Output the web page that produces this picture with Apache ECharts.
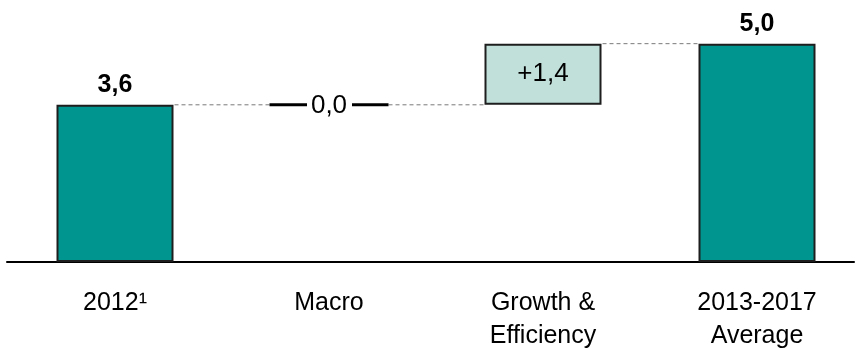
<!DOCTYPE html>
<html>
<head>
<meta charset="utf-8">
<title>Waterfall</title>
<script src="https://cdn.jsdelivr.net/npm/echarts@6/dist/echarts.min.js"></script>
<style>
  html, body { margin: 0; padding: 0; background: #fff; }
  #chart { width: 858px; height: 349px; }
</style>
</head>
<body>
<div id="chart"></div>
<script>
// Waterfall: starting level, two changes, resulting average
const categories = ['2012\u00B9', 'Macro', 'Growth &\nEfficiency', '2013-2017\nAverage'];
const values = [3.6, 0.0, 1.4, 5.0];
const kinds = ['total', 'delta', 'delta', 'total'];

const FONT = '"Liberation Sans", Arial, sans-serif';
const TEAL = '#00968f';
const LIGHT = '#c1e0da';
const EDGE = '#1e1e1e';
const BAR_W = 117;

const fmt = v => v.toFixed(1).replace('.', ',');

// Build stacked base / visible parts and the running level after each step
const base = [];
const shown = [];
const level = [];
let run = 0;
values.forEach((v, i) => {
  if (kinds[i] === 'total') {
    base.push('-');
    shown.push(v);
    run = v;
  } else {
    base.push(v === 0 ? '-' : run);
    shown.push(v === 0 ? '-' : v);
    run += v;
  }
  level.push(run);
});

const flatSteps = values.map((v, i) => (kinds[i] === 'delta' && v === 0) ? [i, level[i], v] : null).filter(Boolean);
const connectors = level.slice(0, -1).map((lv, i) => [i, lv]);

const chart = echarts.init(document.getElementById('chart'), null, { renderer: 'canvas' });

chart.setOption({
  animation: false,
  backgroundColor: '#fff',
  textStyle: { fontFamily: FONT },
  grid: [
    { left: 8, width: 856, top: 0, bottom: 87, containLabel: false, outerBoundsMode: 'none' },
    { left: 7, right: 4, top: 0, bottom: 87, containLabel: false, outerBoundsMode: 'none' }
  ],
  xAxis: [
    {
      type: 'category',
      gridIndex: 0,
      data: categories,
      axisLine: { show: false },
      axisTick: { show: false },
      axisLabel: {
        interval: 0,
        color: '#000',
        fontFamily: FONT,
        fontSize: 25,
        lineHeight: 33,
        margin: 25,
        verticalAlign: 'top'
      }
    },
    {
      type: 'value',
      gridIndex: 1,
      min: 0,
      max: 1,
      axisLine: { show: true, onZero: false, lineStyle: { color: '#000', width: 2 } },
      axisTick: { show: false },
      axisLabel: { show: false },
      splitLine: { show: false }
    }
  ],
  yAxis: [
    { type: 'value', gridIndex: 0, min: 0, max: 6, show: false },
    { type: 'value', gridIndex: 1, min: 0, max: 1, show: false }
  ],
  series: [
    {
      type: 'bar',
      stack: 'wf',
      barWidth: BAR_W,
      data: base,
      itemStyle: { color: 'transparent', borderWidth: 0 },
      silent: true
    },
    {
      type: 'bar',
      stack: 'wf',
      barWidth: BAR_W,
      data: shown.map((v, i) => {
        if (v === '-') return '-';
        const isTotal = kinds[i] === 'total';
        return {
          value: v,
          itemStyle: { color: isTotal ? TEAL : LIGHT, borderColor: EDGE, borderWidth: 2 },
          label: isTotal
            ? { show: true, position: 'top', distance: 7, formatter: fmt(values[i]), fontSize: 25, lineHeight: 25, fontWeight: 'bold', color: '#000', fontFamily: FONT }
            : { show: true, position: 'inside', formatter: (values[i] > 0 ? '+' : '') + fmt(values[i]), fontSize: 26, lineHeight: 26, color: '#000', fontFamily: FONT }
        };
      })
    },
    {
      // dashed links between neighbouring bars
      type: 'custom',
      data: connectors,
      z: 1,
      renderItem: (params, api) => {
        const i = api.value(0);
        const lv = api.value(1);
        const a = api.coord([i, lv]);
        const b = api.coord([i + 1, lv]);
        return {
          type: 'line',
          shape: { x1: a[0] + BAR_W / 2 + 1, y1: a[1], x2: b[0] - BAR_W / 2 - 1, y2: b[1] },
          style: { stroke: '#7a7a7a', lineWidth: 1, lineDash: [4, 3] }
        };
      }
    },
    {
      // zero-size step: flat marker with its value
      type: 'custom',
      data: flatSteps,
      z: 3,
      renderItem: (params, api) => {
        const i = api.value(0);
        const lv = api.value(1);
        const v = api.value(2);
        const c = api.coord([i, lv]);
        const half = BAR_W / 2 + 1;
        const gap = 22;
        return {
          type: 'group',
          children: [
            { type: 'line', shape: { x1: c[0] - half, y1: c[1], x2: c[0] - gap, y2: c[1] }, style: { stroke: '#000', lineWidth: 3 } },
            { type: 'line', shape: { x1: c[0] + gap + 1, y1: c[1], x2: c[0] + half, y2: c[1] }, style: { stroke: '#000', lineWidth: 3 } },
            { type: 'text', x: c[0], y: c[1] + 1, style: { text: fmt(v), fill: '#000', font: '26px ' + FONT, align: 'center', verticalAlign: 'middle' } }
          ]
        };
      }
    }
  ]
});
</script>
</body>
</html>
